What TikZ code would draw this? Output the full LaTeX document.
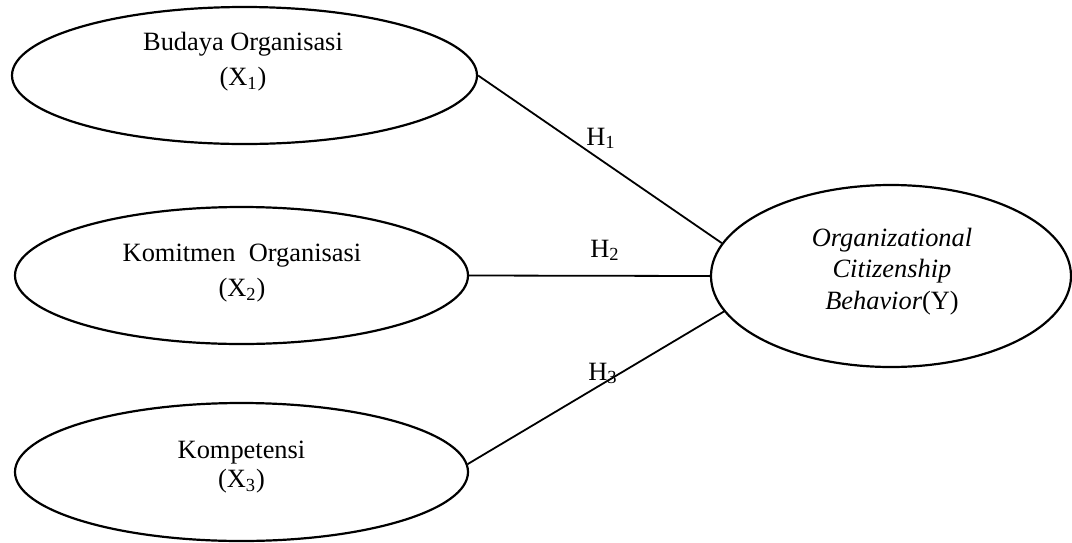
\documentclass[tikz,border=0pt]{standalone}
\usepackage{fontspec}
\setmainfont{Liberation Serif}
\usepackage{tikz}
\usetikzlibrary{shapes,positioning,calc}

\tikzset{
	konstruk/.style={ellipse, draw, line width=1.1pt, inner sep=0pt},
	teks/.style={align=center, inner sep=0pt, font=\fontsize{13.2}{17.5}\selectfont},
	hipotesis/.style={inner sep=0pt, anchor=base west, font=\fontsize{13.2}{16}\selectfont},
	jalur/.style={line width=0.9pt}
}

\begin{document}
\begin{tikzpicture}[x=0.5pt, y=-0.5pt]
			\useasboundingbox (0,0) rectangle (1072,542);
			\node[konstruk, minimum width=232.5pt, minimum height=68.5pt] (bo) at (244.5,75.5) {};
			\node[konstruk, minimum width=226.5pt, minimum height=68.5pt] (ko) at (241.5,275.5) {};
			\node[konstruk, minimum width=226.5pt, minimum height=69pt] (kp) at (241.5,472) {};
			\node[konstruk, minimum width=180pt, minimum height=91pt] (ocb) at (891,276) {};
			\node[teks] (t-bo) at (243,62) {Budaya Organisasi\\(X\textsubscript{1})};
			\node[teks] (t-ko) at (242,273) {Komitmen\ \ Organisasi\\(X\textsubscript{2})};
			\node[teks, font=\fontsize{13.2}{14.5}\selectfont] (t-kp) at (241.5,467.5) {Kompetensi\\(X\textsubscript{3})};
			\node[teks, font=\fontsize{13.2}{15.75}\selectfont] (t-ocb) at (892,271.5) {\textit{Organizational}\\\textit{Citizenship}\\\textit{Behavior}(Y)};
			\draw[jalur] (bo.east) -- (ocb.169);
			\draw[jalur] (ko.east) -- (ocb.west);
			\draw[jalur] (kp.2) -- (ocb.192);
			\node[hipotesis] (h1) at (586,145) {H\textsubscript{1}};
			\node[hipotesis] (h2) at (590,257) {H\textsubscript{2}};
			\node[hipotesis] (h3) at (588,380) {H\textsubscript{3}};
		\end{tikzpicture}
\end{document}
